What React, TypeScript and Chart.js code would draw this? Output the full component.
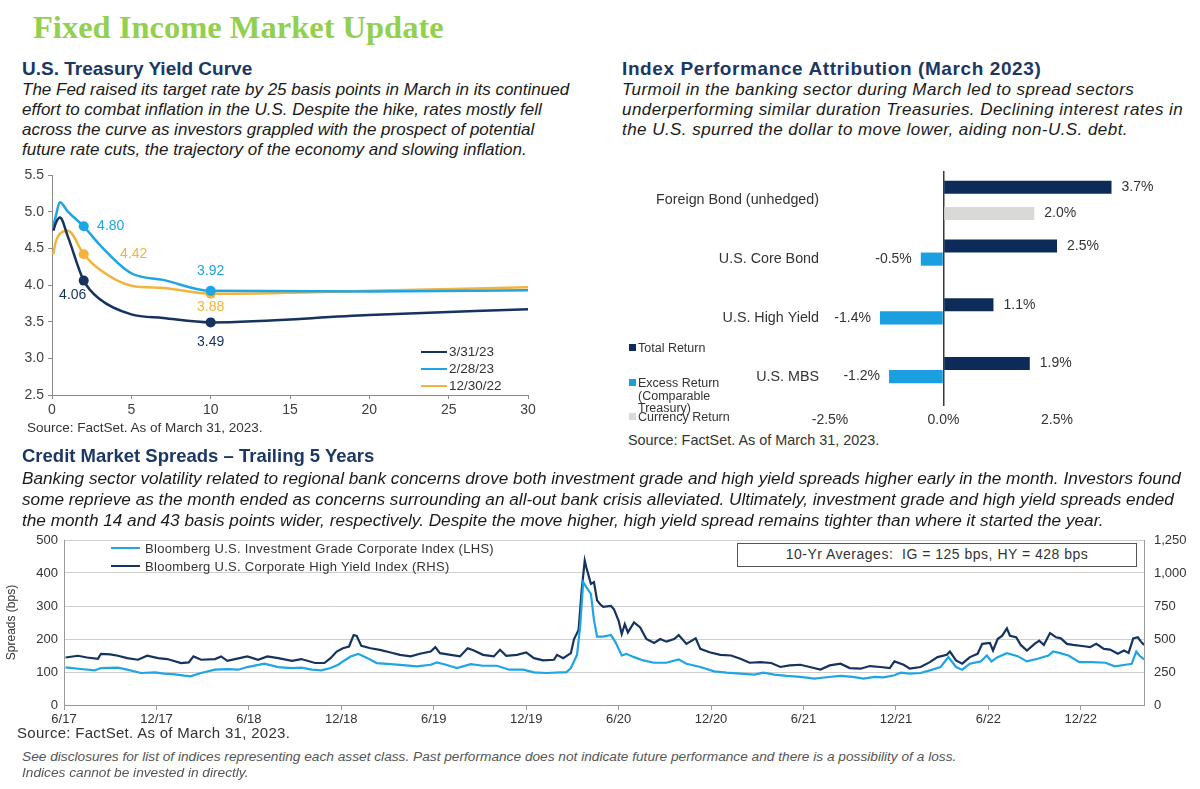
import React, { useEffect, useRef } from "react";
import { Chart, registerables } from "chart.js";

Chart.register(...registerables);

const SANS = "'Liberation Sans', Arial, Helvetica, sans-serif";
const SERIF = "'Liberation Serif', 'DejaVu Serif', serif";

// ---------------- U.S. Treasury Yield Curve ----------------
const maturities = [0.083, 0.25, 0.5, 1, 2, 3, 5, 7, 10, 20, 30];
const yields_3_31_23 = [4.74, 4.85, 4.92, 4.66, 4.06, 3.81, 3.6, 3.55, 3.49, 3.59, 3.67];
const yields_2_28_23 = [4.8, 4.95, 5.13, 5.0, 4.8, 4.55, 4.16, 4.07, 3.92, 3.91, 3.93];
const yields_12_30_22 = [4.42, 4.6, 4.7, 4.74, 4.42, 4.21, 3.99, 3.96, 3.88, 3.92, 3.97];
const yieldSeriesNames = ["3/31/23", "2/28/23", "12/30/22"];
const highlightedMaturities = [2, 10];

// ---------------- Index Performance Attribution ----------------
const attributionCategories = ["Foreign Bond (unhedged)", "U.S. Core Bond", "U.S. High Yield", "U.S. MBS"];
const totalReturn = [3.7, 2.5, 1.1, 1.9];
const excessReturn = [null, -0.5, -1.4, -1.2];
const currencyReturn = [2.0, null, null, null];
const attributionTicks = [-2.5, 0, 2.5];

// ---------------- Credit Market Spreads ----------------
const spreadTickMonths = [0, 6, 12, 18, 24, 30, 36, 42, 48, 54, 60, 66];
const spreadTickLabels = ["6/17", "12/17", "6/18", "12/18", "6/19", "12/19", "6/20", "12/20", "6/21", "12/21", "6/22", "12/22"];

const igMonths = [
  0.1, 1.1, 2.0, 2.4, 3.5, 4.1, 5.0, 5.9, 6.5, 7.2,
  7.8, 8.2, 8.9, 9.8, 10.6, 11.3, 11.9, 13.0, 13.9, 14.8,
  15.4, 16.1, 16.7, 17.3, 17.8, 18.2, 18.6, 19.1, 19.7, 20.3,
  21.2, 22.0, 22.9, 23.8, 24.2, 24.8, 25.5, 26.4, 27.2, 28.1,
  28.9, 29.8, 30.5, 31.3, 32.2, 32.6, 32.9, 33.3, 33.5, 33.7,
  33.9, 34.2, 34.4, 34.6, 35.0, 35.5, 35.8, 36.2, 36.5, 37.0,
  37.6, 38.3, 39.1, 39.9, 40.4, 41.3, 42.2, 43.0, 43.9, 44.8,
  45.4, 46.1, 46.9, 47.8, 48.7, 49.5, 50.4, 51.2, 51.9, 52.6,
  53.2, 53.9, 54.3, 54.9, 55.6, 56.2, 56.9, 57.4, 57.9, 58.3,
  58.8, 59.5, 59.9, 60.2, 60.6, 61.2, 61.9, 62.5, 63.2, 63.9,
  64.2, 64.6, 65.2, 65.9, 66.7, 67.6, 68.2, 68.9, 69.3, 69.6,
  69.8, 70.1,
];
const igSpreads = [
  114, 109, 105, 112, 113, 107, 97, 99, 95, 93,
  89, 87, 97, 107, 109, 107, 115, 125, 115, 112,
  113, 107, 105, 112, 122, 135, 147, 155, 142, 127,
  124, 121, 117, 122, 129, 122, 112, 124, 119, 119,
  107, 107, 99, 97, 99, 99, 112, 152, 237, 372,
  357, 337, 257, 207, 207, 212, 190, 150, 155, 145,
  135, 128, 128, 138, 125, 115, 102, 98, 95, 92,
  98, 92, 88, 85, 80, 84, 88, 85, 80, 85,
  84, 90, 98, 95, 97, 105, 115, 145, 115, 107,
  125, 132, 150, 132, 145, 157, 148, 132, 140, 150,
  162, 158, 150, 130, 130, 128, 117, 122, 125, 162,
  150, 138,
];

const hyMonths = [
  0.1, 0.9, 1.5, 2.2, 2.4, 3.0, 3.5, 4.1, 4.8, 5.4,
  6.1, 6.7, 7.6, 8.1, 8.4, 8.9, 9.8, 10.2, 10.6, 11.1,
  11.9, 12.6, 13.2, 13.9, 14.8, 15.4, 16.3, 16.9, 17.3, 17.7,
  18.1, 18.5, 18.8, 19.0, 19.3, 19.9, 20.5, 21.2, 21.8, 22.5,
  23.1, 23.8, 24.1, 24.4, 25.1, 25.7, 26.2, 26.6, 27.2, 27.9,
  28.3, 28.7, 29.4, 30.0, 30.5, 31.1, 31.8, 32.0, 32.4, 32.9,
  33.1, 33.4, 33.6, 33.8, 33.9, 34.2, 34.4, 34.6, 34.8, 35.0,
  35.5, 35.7, 36.0, 36.2, 36.4, 36.6, 37.0, 37.4, 37.8, 38.3,
  38.7, 39.1, 39.6, 39.9, 40.4, 41.0, 41.3, 41.9, 42.6, 43.3,
  43.9, 44.5, 45.2, 45.9, 46.5, 47.1, 47.8, 48.4, 49.1, 49.7,
  50.4, 51.0, 51.7, 52.3, 53.0, 53.6, 53.9, 54.5, 54.9, 55.6,
  56.2, 56.7, 57.3, 57.5, 57.9, 58.3, 58.8, 59.3, 59.6, 60.1,
  60.3, 60.6, 60.9, 61.2, 61.4, 61.8, 62.1, 62.5, 63.0, 63.3,
  63.6, 64.0, 64.4, 64.7, 65.1, 65.5, 66.2, 66.6, 67.0, 67.5,
  67.9, 68.4, 68.8, 69.1, 69.4, 69.7, 69.9, 70.1,
];
const hySpreads = [
  360, 373, 360, 350, 388, 383, 373, 355, 343, 373,
  355, 348, 318, 323, 368, 343, 348, 368, 335, 348,
  368, 343, 368, 355, 335, 348, 318, 318, 355, 405,
  430, 443, 530, 523, 448, 430, 418, 398, 380, 368,
  388, 405, 438, 393, 380, 368, 430, 413, 380, 368,
  418, 373, 380, 398, 355, 338, 343, 380, 355, 393,
  498, 568, 868, 1093, 1043, 918, 930, 793, 763, 743,
  750, 725, 638, 538, 613, 550, 625, 588, 500, 470,
  500, 480, 500, 530, 463, 505, 425, 400, 380, 375,
  350, 320, 325, 318, 288, 300, 305, 288, 268, 300,
  313, 280, 275, 295, 288, 280, 330, 305, 275, 288,
  325, 363, 380, 405, 338, 313, 363, 388, 463, 470,
  413, 500, 525, 580, 525, 513, 455, 413, 463, 488,
  455, 545, 513, 505, 463, 455, 445, 438, 463, 425,
  420, 388, 413, 395, 505, 513, 480, 455,
];

// ---------------- colours ----------------
const C_NAVY = "#16325e";
const C_BLUE = "#1ea5e3";
const C_GOLD = "#f1b43e";
const C_BAR_NAVY = "#0c2b58";
const C_BAR_BLUE = "#1c9fe0";
const C_BAR_GRAY = "#d9d9d7";
const C_HEAD = "#1b3764";
const C_TEXT = "#333333";
const C_PARA = "#1a1a1a";

function useChart(factory: () => any) {
  const ref = useRef<HTMLCanvasElement>(null);
  useEffect(() => {
    const chart = new Chart(ref.current as HTMLCanvasElement, factory());
    return () => chart.destroy();
  }, []);
  return ref;
}

function Txt(props: any) {
  const { x, y, size, children, bold, italic, color, family, lh, spacing } = props;
  const h = lh ?? Math.round(size * 1.3);
  const style: any = {
    position: "absolute",
    left: x,
    top: y - h / 2,
    fontSize: size,
    lineHeight: h + "px",
    fontWeight: bold ? 700 : 400,
    fontStyle: italic ? "italic" : "normal",
    color: color ?? C_TEXT,
    fontFamily: family ?? SANS,
    whiteSpace: "nowrap",
    letterSpacing: spacing ?? 0,
  };
  return <div style={style}>{children}</div>;
}

const noVerticalLabelPadding = (s: any) => {
  s.paddingTop = 0;
  s.paddingBottom = 0;
};

// ---------------- Yield chart ----------------
const yieldLabelOffsets = [
  [[-11, 15], [0, 20]],
  [[27, 0], [0, -20]],
  [[50, 0], [0, 13]],
];

const yieldLabelPlugin = {
  id: "yieldLabels",
  afterDatasetsDraw(chart: any) {
    const ctx = chart.ctx;
    ctx.save();
    ctx.font = `14px ${SANS}`;
    ctx.textAlign = "center";
    ctx.textBaseline = "middle";
    chart.data.datasets.forEach((ds: any, di: number) => {
      const meta = chart.getDatasetMeta(di);
      highlightedMaturities.forEach((m, k) => {
        const idx = maturities.indexOf(m);
        const el = meta.data[idx];
        const v = ds.data[idx].y;
        const [dx, dy] = yieldLabelOffsets[di][k];
        ctx.fillStyle = ds.borderColor;
        ctx.fillText(v.toFixed(2), el.x + dx, el.y + dy);
      });
    });
    ctx.restore();
  },
};

function YieldChart() {
  const ref = useChart(() => {
    const series = [yields_3_31_23, yields_2_28_23, yields_12_30_22];
    const colors = [C_NAVY, C_BLUE, C_GOLD];
    return {
      type: "line",
      data: {
        datasets: series.map((ys, i) => ({
          label: yieldSeriesNames[i],
          data: maturities.map((m, j) => ({ x: m, y: ys[j] })),
          borderColor: colors[i],
          backgroundColor: colors[i],
          borderWidth: 2.5,
          cubicInterpolationMode: "monotone",
          pointRadius: (c: any) => (highlightedMaturities.includes(maturities[c.dataIndex]) ? 5 : 0),
          pointBorderWidth: 0,
          pointBackgroundColor: colors[i],
        })),
      },
      options: {
        responsive: false,
        animation: false,
        layout: { padding: { top: 10, right: 32, left: 0, bottom: 0 } },
        plugins: { legend: { display: false }, tooltip: { enabled: false } },
        scales: {
          x: {
            type: "linear",
            min: 0,
            max: 30,
            ticks: { stepSize: 5, font: { size: 14, family: SANS }, color: "#404040", padding: 3, maxRotation: 0 },
            grid: { drawOnChartArea: false, drawTicks: true, tickLength: 4, color: "#8a8a8a" },
            border: { color: "#8a8a8a" },
            afterFit: (s: any) => {
              s.height = 25;
            },
          },
          y: {
            min: 2.5,
            max: 5.5,
            ticks: {
              stepSize: 0.5,
              font: { size: 14, family: SANS },
              color: "#404040",
              padding: 4,
              callback: (v: any) => Number(v).toFixed(1),
            },
            grid: { drawOnChartArea: false, drawTicks: true, tickLength: 4, color: "#8a8a8a" },
            border: { color: "#8a8a8a" },
            afterFit: (s: any) => {
              s.width = 52;
              noVerticalLabelPadding(s);
            },
          },
        },
      },
      plugins: [yieldLabelPlugin],
    };
  });
  return <canvas ref={ref} width={560} height={255} style={{ position: "absolute", left: 0, top: 165 }} />;
}

// ---------------- Attribution chart ----------------
const barLabelPlugin = {
  id: "barLabels",
  afterDatasetsDraw(chart: any) {
    const ctx = chart.ctx;
    ctx.save();
    ctx.font = `14px ${SANS}`;
    ctx.textBaseline = "middle";
    ctx.fillStyle = C_TEXT;
    chart.data.datasets.forEach((ds: any, di: number) => {
      const meta = chart.getDatasetMeta(di);
      meta.data.forEach((bar: any, i: number) => {
        const v = ds.data[i];
        if (v === null || v === undefined) return;
        const neg = v < 0;
        ctx.textAlign = neg ? "right" : "left";
        ctx.fillText(v.toFixed(1) + "%", bar.x + (neg ? -9 : 10), bar.y);
      });
    });
    ctx.restore();
  },
};

function AttributionChart() {
  const ref = useChart(() => ({
    type: "bar",
    data: {
      labels: attributionCategories,
      datasets: [
        { label: "Total Return", data: totalReturn, backgroundColor: C_BAR_NAVY },
        { label: "Excess Return (Comparable Treasury)", data: excessReturn, backgroundColor: C_BAR_BLUE },
        { label: "Currency Return", data: currencyReturn, backgroundColor: C_BAR_GRAY },
      ],
    },
    options: {
      indexAxis: "y",
      responsive: false,
      animation: false,
      datasets: { bar: { categoryPercentage: 0.67, barPercentage: 1.0 } },
      layout: { padding: { top: 11, right: 24, left: 0, bottom: 0 } },
      plugins: { legend: { display: false }, tooltip: { enabled: false } },
      scales: {
        x: {
          min: -2.5,
          max: 4.9,
          afterBuildTicks: (s: any) => {
            s.ticks = attributionTicks.map((v) => ({ value: v }));
          },
          ticks: {
            font: { size: 14, family: SANS },
            color: C_TEXT,
            padding: 6,
            callback: (v: any) => Number(v).toFixed(1) + "%",
          },
          grid: {
            drawTicks: false,
            lineWidth: 1.5,
            color: (c: any) => (c.tick && c.tick.value === 0 ? "#3a3a3a" : "rgba(0,0,0,0)"),
          },
          border: { display: false },
          afterFit: (s: any) => {
            s.height = 25;
          },
        },
        y: {
          ticks: { font: { size: 14.3, family: SANS }, color: C_TEXT, padding: 11 },
          grid: { display: false, drawTicks: false },
          border: { display: false },
          afterFit: (s: any) => {
            s.width = 230;
            noVerticalLabelPadding(s);
          },
        },
      },
    },
    plugins: [barLabelPlugin],
  }));
  return <canvas ref={ref} width={590} height={271} style={{ position: "absolute", left: 600, top: 160 }} />;
}

// ---------------- Credit spreads chart ----------------
function SpreadsChart() {
  const ref = useChart(() => ({
    type: "line",
    data: {
      datasets: [
        {
          label: "Bloomberg U.S. Investment Grade Corporate Index (LHS)",
          data: igMonths.map((m, i) => ({ x: m, y: igSpreads[i] })),
          borderColor: C_BLUE,
          borderWidth: 2.2,
          pointRadius: 0,
          tension: 0,
          yAxisID: "yL",
        },
        {
          label: "Bloomberg U.S. Corporate High Yield Index (RHS)",
          data: hyMonths.map((m, i) => ({ x: m, y: hySpreads[i] })),
          borderColor: C_NAVY,
          borderWidth: 2.2,
          pointRadius: 0,
          tension: 0,
          yAxisID: "yR",
        },
      ],
    },
    options: {
      responsive: false,
      animation: false,
      layout: { padding: { top: 10, right: 0, left: 0, bottom: 0 } },
      plugins: { legend: { display: false }, tooltip: { enabled: false } },
      scales: {
        x: {
          type: "linear",
          min: 0,
          max: 70.1,
          afterBuildTicks: (s: any) => {
            s.ticks = spreadTickMonths.map((v) => ({ value: v }));
          },
          ticks: {
            font: { size: 13, family: SANS },
            color: C_TEXT,
            padding: 2,
            maxRotation: 0,
            autoSkip: false,
            callback: (v: any) => spreadTickLabels[spreadTickMonths.indexOf(Number(v))],
          },
          grid: { drawOnChartArea: false, drawTicks: true, tickLength: 5, color: "#9a9a9a" },
          border: { color: "#9a9a9a" },
          afterFit: (s: any) => {
            s.height = 25;
          },
        },
        yL: {
          position: "left",
          min: 0,
          max: 500,
          ticks: { stepSize: 100, font: { size: 13, family: SANS }, color: C_TEXT, padding: 6 },
          grid: { color: "#cfcfcf", drawTicks: false },
          border: { color: "#9a9a9a" },
          title: { display: true, text: "Spreads (bps)", font: { size: 12, family: SANS }, color: C_TEXT, padding: 4 },
          afterFit: (s: any) => {
            s.width = 64;
            noVerticalLabelPadding(s);
          },
        },
        yR: {
          position: "right",
          min: 0,
          max: 1250,
          ticks: {
            stepSize: 250,
            font: { size: 13, family: SANS },
            color: C_TEXT,
            padding: 10,
            callback: (v: any) => Number(v).toLocaleString("en-US"),
          },
          grid: { drawOnChartArea: false, drawTicks: false },
          border: { color: "#9a9a9a" },
          afterFit: (s: any) => {
            s.width = 56;
            noVerticalLabelPadding(s);
          },
        },
      },
    },
  }));
  return <canvas ref={ref} width={1200} height={200} style={{ position: "absolute", left: 0, top: 530 }} />;
}

function LegendLine({ x, y, w, color }: any) {
  return <div style={{ position: "absolute", left: x, top: y - 1.25, width: w, height: 2.5, background: color }} />;
}
function LegendSquare({ x, y, color }: any) {
  return <div style={{ position: "absolute", left: x, top: y - 3.5, width: 7, height: 7, background: color }} />;
}

export default function App() {
  const yieldColors = [C_NAVY, C_BLUE, C_GOLD];
  return (
    <div style={{ position: "absolute", left: 0, top: 0, width: 1200, height: 789, background: "#fff", overflow: "hidden" }}>
      <Txt x={33} y={27} size={32.5} bold family={SERIF} color="#92d050">
        Fixed Income Market Update
      </Txt>

      {/* Left section header */}
      <Txt x={22} y={68} size={19} bold color={C_HEAD}>U.S. Treasury Yield Curve</Txt>
      <Txt x={22} y={90} size={17} italic color={C_PARA}>The Fed raised its target rate by 25 basis points in March in its continued</Txt>
      <Txt x={22} y={110} size={17} italic color={C_PARA}>effort to combat inflation in the U.S. Despite the hike, rates mostly fell</Txt>
      <Txt x={22} y={130} size={17} italic color={C_PARA}>across the curve as investors grappled with the prospect of potential</Txt>
      <Txt x={22} y={150} size={17} italic color={C_PARA}>future rate cuts, the trajectory of the economy and slowing inflation.</Txt>

      {/* Right section header */}
      <Txt x={622} y={68} size={19} bold color={C_HEAD} spacing={0.6}>Index Performance Attribution (March 2023)</Txt>
      <Txt x={622} y={90} size={17} italic color={C_PARA} spacing={0.45}>Turmoil in the banking sector during March led to spread sectors</Txt>
      <Txt x={622} y={110} size={17} italic color={C_PARA} spacing={0.45}>underperforming similar duration Treasuries. Declining interest rates in</Txt>
      <Txt x={622} y={130} size={17} italic color={C_PARA} spacing={0.45}>the U.S. spurred the dollar to move lower, aiding non-U.S. debt.</Txt>

      <YieldChart />
      {yieldSeriesNames.map((n, i) => (
        <React.Fragment key={n}>
          <LegendLine x={421} y={352 + i * 17} w={26} color={yieldColors[i]} />
          <Txt x={449} y={352 + i * 17} size={13.5} color={C_TEXT}>{n}</Txt>
        </React.Fragment>
      ))}
      <Txt x={27} y={428} size={13.5} color={C_TEXT}>Source: FactSet. As of March 31, 2023.</Txt>

      <AttributionChart />
      <LegendSquare x={629} y={347} color={C_BAR_NAVY} />
      <Txt x={638} y={348} size={12.5}>Total Return</Txt>
      <LegendSquare x={629} y={382} color={C_BAR_BLUE} />
      <Txt x={638} y={383} size={12.5}>Excess Return</Txt>
      <Txt x={638} y={396} size={12.5}>(Comparable</Txt>
      <Txt x={638} y={408} size={12.5}>Treasury)</Txt>
      <LegendSquare x={629} y={416} color={C_BAR_GRAY} />
      <Txt x={638} y={417} size={12.5}>Currency Return</Txt>
      <Txt x={628} y={440} size={14.4}>Source: FactSet. As of March 31, 2023.</Txt>

      {/* Credit section */}
      <Txt x={22} y={456} size={18.5} bold color={C_HEAD}>Credit Market Spreads – Trailing 5 Years</Txt>
      <Txt x={22} y={478} size={17.2} italic color={C_PARA}>Banking sector volatility related to regional bank concerns drove both investment grade and high yield spreads higher early in the month. Investors found</Txt>
      <Txt x={22} y={499} size={17.2} italic color={C_PARA}>some reprieve as the month ended as concerns surrounding an all-out bank crisis alleviated. Ultimately, investment grade and high yield spreads ended</Txt>
      <Txt x={22} y={520} size={17.2} italic color={C_PARA}>the month 14 and 43 basis points wider, respectively. Despite the move higher, high yield spread remains tighter than where it started the year.</Txt>

      <SpreadsChart />
      <LegendLine x={111} y={548} w={29} color={C_BLUE} />
      <Txt x={145} y={548} size={13} spacing={0.3}>Bloomberg U.S. Investment Grade Corporate Index (LHS)</Txt>
      <LegendLine x={111} y={566} w={29} color={C_NAVY} />
      <Txt x={145} y={566} size={13} spacing={0.3}>Bloomberg U.S. Corporate High Yield Index (RHS)</Txt>
      <div
        style={{
          position: "absolute",
          left: 737,
          top: 543,
          width: 400,
          height: 24,
          border: "1.5px solid #555",
          boxSizing: "border-box",
          fontFamily: SANS,
          fontSize: 14,
          letterSpacing: 0.5,
          color: C_TEXT,
          lineHeight: "21px",
          textAlign: "center",
          whiteSpace: "pre",
          background: "#fff",
        }}
      >
        {"10-Yr Averages:  IG = 125 bps, HY = 428 bps"}
      </div>

      <Txt x={17} y={733} size={15} spacing={0.3}>Source: FactSet. As of March 31, 2023.</Txt>
      <Txt x={22} y={757} size={13.7} italic color="#555">See disclosures for list of indices representing each asset class. Past performance does not indicate future performance and there is a possibility of a loss.</Txt>
      <Txt x={22} y={773} size={13.7} italic color="#555">Indices cannot be invested in directly.</Txt>
    </div>
  );
}
